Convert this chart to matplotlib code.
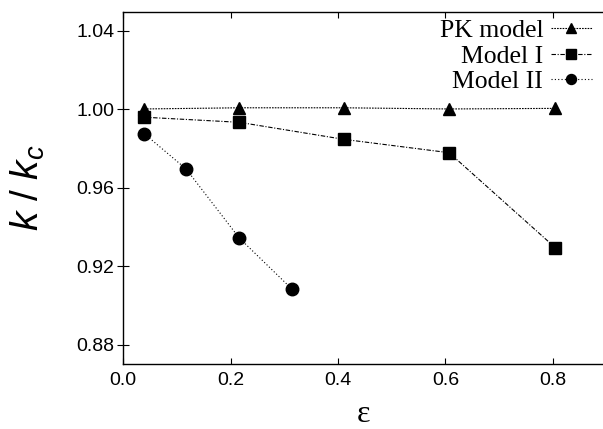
import matplotlib
matplotlib.use("Agg")
import matplotlib.pyplot as plt
from matplotlib.transforms import IdentityTransform

# Data
eps_pk = [0.039, 0.216, 0.411, 0.607, 0.805]
k_pk = [1.0002, 1.0008, 1.0008, 1.0002, 1.0005]

eps_m1 = [0.039, 0.216, 0.411, 0.607, 0.805]
k_m1 = [0.9960, 0.9934, 0.9847, 0.9779, 0.9294]

eps_m2 = [0.039, 0.117, 0.216, 0.314]
k_m2 = [0.9876, 0.9696, 0.9344, 0.9084]

labels = ["PK model", "Model I", "Model II"]
xticks = [0.0, 0.2, 0.4, 0.6, 0.8]
yticks = [0.88, 0.92, 0.96, 1.00, 1.04]

plt.rcParams['mathtext.fontset'] = 'custom'
plt.rcParams['mathtext.rm'] = 'Liberation Sans'
plt.rcParams['mathtext.it'] = 'Liberation Sans:italic'

fig = plt.figure(figsize=(6.03, 4.29), dpi=100)
ax = fig.add_axes([123.3/603, 1 - 363.7/429, (603 - 123.3)/603, (363.7 - 11.7)/429])

ax.plot(eps_pk, k_pk, color='black', lw=0.8, dashes=(1.5, 1.0), marker='^', ms=9, label=labels[0])
ax.plot(eps_m1, k_m1, color='black', lw=0.8, dashes=(4, 1.5, 1, 1.5), marker='s', ms=9, label=labels[1])
ax.plot(eps_m2, k_m2, color='black', lw=0.8, dashes=(1, 2), marker='o', ms=9, label=labels[2])

ax.set_xlim(0, 0.8937)
ax.set_ylim(0.8703, 1.0498)
ax.set_xticks(xticks)
ax.set_xticklabels([f"{v:.1f}" for v in xticks], family='Liberation Sans', fontsize=14)
ax.set_yticks(yticks)
ax.set_yticklabels([f"{v:.2f}" for v in yticks], family='Liberation Sans', fontsize=14)

ax.spines['right'].set_visible(False)
for s in ['left', 'top', 'bottom']:
    ax.spines[s].set_linewidth(1.0)

ax.tick_params(axis='x', direction='in', length=4, width=0.8, top=True, bottom=True, pad=6)
ax.tick_params(axis='y', direction='inout', length=9, width=0.8, left=True, right=False, pad=2)

ax.set_ylabel(r"$k\ /\ k_c$", fontsize=28, labelpad=21)
ax.set_xlabel("ε", family='Liberation Serif', fontsize=23, labelpad=8)

leg = ax.legend(loc='upper right', bbox_to_anchor=(603 - 11, 429 - 19), bbox_transform=IdentityTransform(),
                frameon=False, markerfirst=False, prop={'family': 'Liberation Serif', 'size': 18.5},
                handlelength=1.6, handletextpad=0.3, labelspacing=0.1, borderpad=0, borderaxespad=0,
                markerscale=0.8)

fig.savefig("out.png", dpi=100)
